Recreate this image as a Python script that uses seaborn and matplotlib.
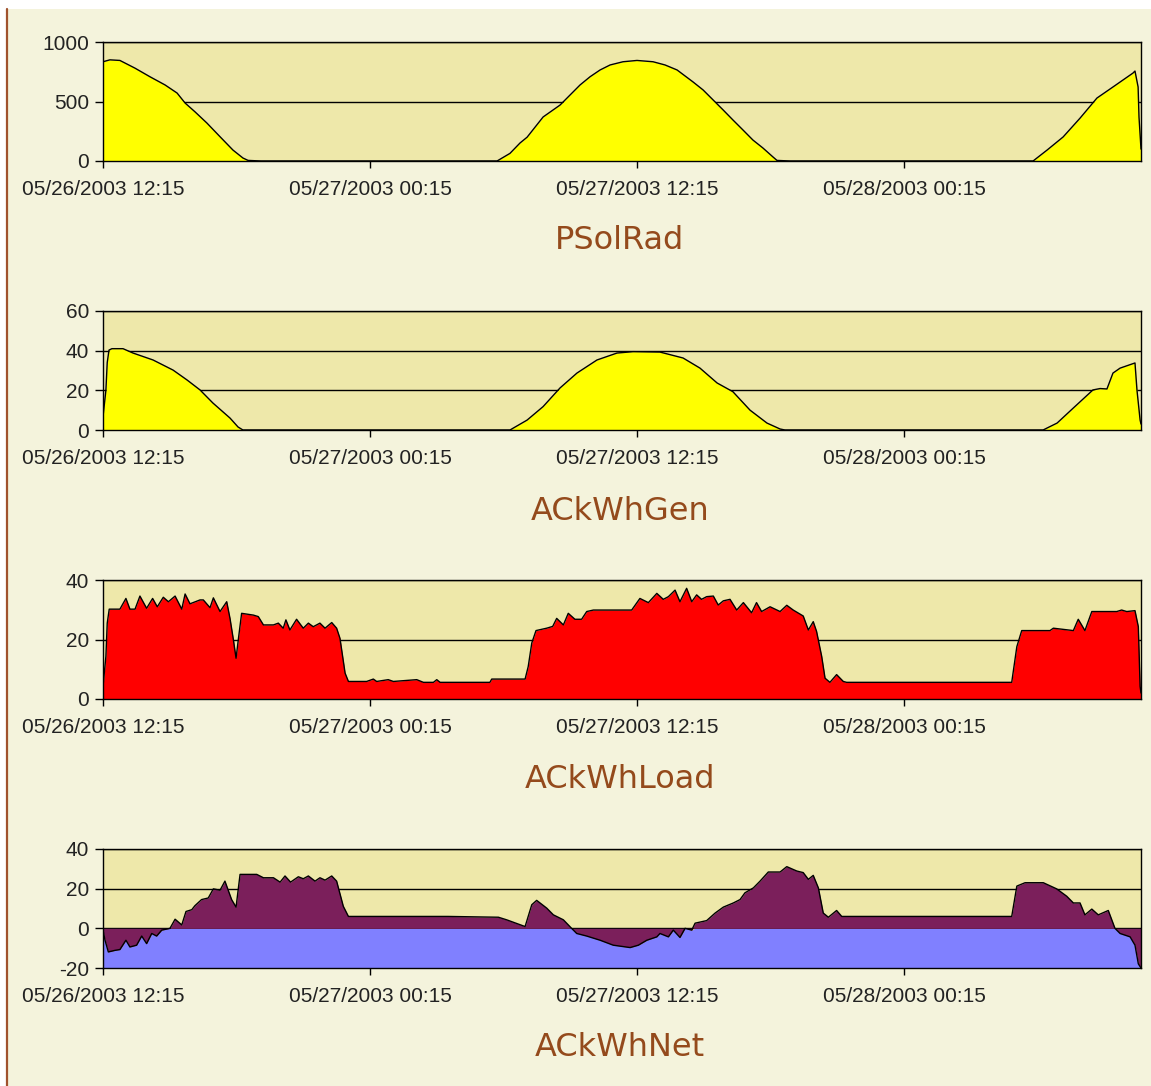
import numpy as np
import pandas as pd
import matplotlib
matplotlib.use("Agg")
import matplotlib.pyplot as plt
import matplotlib.dates as mdates
import seaborn as sns
from matplotlib.patches import Rectangle
from matplotlib.lines import Line2D

# ---------------- data (hours after 05/26/2003 12:15) ----------------
START = "2003-05-26 12:15"
END_HOURS = 46.65
TICK_HOURS = [0, 12, 24, 36]

titles = ["PSolRad", "ACkWhGen", "ACkWhLoad", "ACkWhNet"]

solrad_hours = [0, 0.31, 0.76, 1.44, 2.11, 2.79, 3.33, 3.69, 4.13, 4.67, 5.26, 5.84, 6.29, 6.52, 7.1,
                17.71, 18.29, 18.74, 19.06, 19.78, 20.54, 21.44, 21.89, 22.34, 22.79, 23.37, 24.0,
                24.72, 25.26, 25.8, 26.52, 26.97, 27.42, 27.87, 28.31, 28.76, 29.21, 29.66, 30.11,
                30.29, 30.88,
                41.8, 42.43, 43.15, 43.91, 44.67, 45.39, 46.29, 46.38, 46.52, 46.56, 46.65]
solrad_values = [834, 850, 845, 780, 708, 639, 571, 487, 414, 319, 204, 92, 25, 5, 0,
                 0, 64, 151, 200, 370, 470, 639, 708, 765, 807, 834, 845,
                 834, 807, 765, 664, 597, 513, 429, 345, 261, 176, 109, 34,
                 5, 0,
                 0, 92, 202, 360, 529, 622, 739, 756, 622, 370, 100]

gen_hours = [0, 0.13, 0.19, 0.27, 0.4, 0.9, 1.35, 2.25, 3.15, 3.78, 4.36, 4.94, 5.71, 6.07, 6.29,
             18.29, 19.06, 19.78, 20.54, 21.3, 22.2, 23.1, 23.82, 25.03, 26.07, 26.83, 27.6,
             28.31, 29.08, 29.84, 30.43, 30.65,
             42.25, 42.88, 43.6, 44.49, 44.81, 45.12, 45.39, 45.71, 46.38, 46.47, 46.61, 46.65]
gen_values = [6.7, 20, 34, 40.3, 41, 41, 38.8, 35.3, 30.2, 25.2, 20.2, 13.6, 6, 1.5, 0,
              0, 5, 11.8, 21.2, 28.7, 35.3, 38.8, 39.5, 39.3, 36.3, 31.2, 23.7,
              19.3, 10, 3.5, 0.5, 0,
              0, 3.5, 11, 20.2, 20.9, 20.7, 28.7, 31.2, 33.8, 20, 5, 3]

load_hours = [0, 0.13, 0.19, 0.28, 0.76, 1.03, 1.21, 1.44, 1.66, 1.96, 2.23, 2.44, 2.71, 2.94,
              3.24, 3.54, 3.69, 3.91, 4.36, 4.51, 4.81, 4.96, 5.26, 5.56, 5.71, 5.86, 5.98,
              6.08, 6.23, 6.76, 6.98, 7.21, 7.66, 7.88, 8.1, 8.22, 8.4, 8.7, 9.0, 9.23, 9.45,
              9.75, 9.98, 10.28, 10.5, 10.65, 10.88, 11.03, 11.85, 12.15, 12.3, 12.82, 13.05,
              14.1, 14.4, 14.85, 15.0, 15.15, 17.39, 17.47, 18.97, 19.11, 19.27, 19.46, 19.94,
              20.21, 20.39, 20.69, 20.91, 21.21, 21.51, 21.74, 22.04, 23.76, 24.13, 24.51,
              24.89, 25.18, 25.41, 25.71, 25.93, 26.23, 26.46, 26.68, 26.9, 27.13, 27.43,
              27.65, 27.88, 28.18, 28.48, 28.78, 29.15, 29.37, 29.6, 29.98, 30.43, 30.73,
              31.02, 31.47, 31.7, 31.92, 32.07, 32.3, 32.45, 32.67, 32.97, 33.27, 33.42,
              40.84, 41.07, 41.29, 42.56, 42.71, 43.61, 43.83, 44.13, 44.44, 45.56, 45.78,
              46.01, 46.38, 46.53, 46.61, 46.65]
load_values = [4.2, 14.3, 25.5, 30.2, 30.2, 33.8, 30.2, 30.2, 34.6, 30.5, 33.8, 31.0, 34.2, 32.7,
               34.6, 30.2, 35.3, 32.0, 33.3, 33.3, 30.7, 34.0, 29.4, 32.7, 27.0, 19.9, 13.7,
               19.9, 28.8, 28.2, 27.7, 24.9, 24.9, 25.5, 23.8, 26.6, 23.2, 26.8, 23.8, 25.5, 24.3,
               25.5, 23.8, 25.7, 23.8, 20.4, 8.7, 5.9, 5.9, 6.7, 5.9, 6.5, 5.9,
               6.5, 5.6, 5.6, 6.5, 5.6, 5.6, 6.7, 6.7, 10.9, 18.8, 23.0, 23.8,
               24.4, 27.1, 24.9, 28.8, 26.8, 26.8, 29.4, 29.9, 29.9, 33.8, 32.4,
               35.5, 33.5, 34.4, 36.6, 32.7, 37.2, 32.7, 35.0, 33.5, 34.4, 34.6,
               31.6, 33.0, 33.5, 29.9, 32.4, 29.0, 32.4, 29.4, 31.0, 29.4, 31.5,
               29.9, 27.9, 23.2, 26.0, 22.7, 14.3, 7.0, 5.6, 8.2, 5.9, 5.6,
               5.6, 17.6, 23.0, 23.0, 23.8, 23.0, 26.8, 23.0, 29.4, 29.4, 29.9,
               29.4, 29.7, 24.3, 4.2, 2.0]

net_hours = [0, 0.09, 0.24, 0.54, 0.76, 1.03, 1.21, 1.51, 1.74, 1.96, 2.19, 2.41, 2.64, 3.01,
             3.24, 3.54, 3.73, 3.99, 4.13, 4.43, 4.73, 4.96, 5.26, 5.48, 5.78, 5.98, 6.16,
             6.91, 7.21, 7.66, 7.96, 8.18, 8.43, 8.78, 9.0, 9.23, 9.53, 9.75, 9.98, 10.28,
             10.5, 10.8, 11.03, 15.5, 17.77, 18.14, 18.97, 19.27, 19.49, 19.94, 20.24, 20.69,
             21.06, 21.29, 21.74, 22.34, 22.93, 23.69, 24.06, 24.44, 24.89, 25.03, 25.41,
             25.63, 25.93, 26.16, 26.46, 26.61, 27.13, 27.51, 27.88, 28.33, 28.63, 28.85,
             29.23, 29.53, 29.9, 30.43, 30.73, 31.18, 31.47, 31.7, 31.92, 32.15, 32.37, 32.6,
             32.97, 33.2, 40.84, 41.07, 41.44, 42.26, 42.86, 43.31, 43.61, 43.91, 44.13,
             44.44, 44.73, 45.18, 45.48, 45.71, 46.16, 46.38, 46.53, 46.65]
net_values = [-0.9, -6.0, -11.9, -11.1, -10.7, -6.0, -9.4, -8.5, -3.9, -7.7, -2.6, -3.9, -0.9, 0,
              4.6, 1.7, 8.5, 9.4, 11.4, 14.5, 15.3, 19.9, 19.2, 23.8, 14.5, 10.7, 27.2,
              27.2, 25.5, 25.5, 23.3, 26.4, 23.3, 26.0, 25.0, 26.4, 23.8, 25.5, 24.3, 26.4,
              23.8, 11.1, 6.0, 6.0, 5.6, 4.3, 0.9, 11.9, 14.1, 10.2, 6.8, 4.3,
              0, -2.6, -3.9, -6.0, -8.5, -9.7, -8.5, -6.0, -4.3, -2.6, -4.3,
              -0.9, -4.6, 0, -0.9, 2.6, 3.9, 7.7, 10.7, 12.8, 14.5, 17.9,
              20.4, 23.8, 28.4, 28.4, 31.1, 28.9, 28.1, 24.7, 26.7, 20.4, 7.7, 5.6,
              9.0, 6.0, 6.0, 21.3, 23.0, 23.0, 19.9, 16.2, 12.8, 12.8, 6.8,
              9.7, 6.8, 9.0, 0, -2.6, -4.3, -8.5, -17.9, -20.0]

ylims = [(0, 1000), (0, 60), (0, 40), (-20, 40)]
yticks = [[0, 500, 1000], [0, 20, 40, 60], [0, 20, 40], [-20, 0, 20, 40]]
fill_colors = ["#FFFF00", "#FFFF00", "#FF0000", "#7B1F5B"]
NEG_COLOR = "#8080FF"

# ---------------- style ----------------
sns.set_style("white")
plt.rcParams["font.family"] = ["Liberation Sans", "DejaVu Sans"]

W, H = 1151, 1086
fig = plt.figure(figsize=(W / 100, H / 100), dpi=100, facecolor="white")
fig.patches.append(Rectangle((8 / W, 0), 1 - 8 / W, 1 - 9 / H, transform=fig.transFigure,
                             facecolor="#F4F3DC", edgecolor="none", zorder=-10))
fig.lines.append(Line2D([7.5 / W, 7.5 / W], [0, 1 - 9 / H], transform=fig.transFigure,
                        color="#A0522D", lw=1.6))

start = pd.Timestamp(START)
def to_time(hours):
    return start + pd.to_timedelta(np.asarray(hours, dtype=float), unit="h")

series = [(solrad_hours, solrad_values), (gen_hours, gen_values),
          (load_hours, load_values), (net_hours, net_values)]
plot_tops = [42, 311, 580, 849]
title_y = [241, 511, 779, 1048]
left, right = 103, 1141
ph = 119

for i, (hrs, vals) in enumerate(series):
    top = plot_tops[i]
    ax = fig.add_axes([left / W, 1 - (top + ph) / H, (right - left) / W, ph / H])
    ax.set_facecolor("#EEE8AA")
    t = to_time(hrs)
    v = np.asarray(vals, dtype=float)
    y0, y1 = ylims[i]
    if i == 3:
        ax.fill_between(t, y0, np.minimum(v, 0), color=NEG_COLOR, lw=0, zorder=2)
        ax.fill_between(t, 0, v, color=fill_colors[i], lw=0, zorder=2, interpolate=True)
    else:
        ax.fill_between(t, 0, v, color=fill_colors[i], lw=0, zorder=2)
    sns.lineplot(x=t, y=v, ax=ax, color="black", lw=1.0, sort=False, estimator=None, zorder=3)
    ax.set_xlim(start, start + pd.Timedelta(hours=END_HOURS))
    ax.set_ylim(y0, y1)
    ax.set_yticks(yticks[i])
    ax.set_yticklabels([str(k) for k in yticks[i]])
    ax.set_xticks(to_time(TICK_HOURS))
    ax.xaxis.set_major_formatter(mdates.DateFormatter("%m/%d/%Y %H:%M"))
    ax.set_xlabel("")
    ax.set_ylabel("")
    ax.grid(axis="y", color="black", lw=1.0)
    ax.grid(axis="x", visible=False)
    ax.set_axisbelow(True)
    for sp in ax.spines.values():
        sp.set_visible(True)
        sp.set_color("black")
        sp.set_linewidth(1.0)
        sp.set_zorder(4)
    ax.tick_params(axis="x", which="major", direction="out", length=5, width=1,
                   color="black", pad=8.5, labelsize=15, labelcolor="#222222",
                   bottom=True)
    ax.tick_params(axis="y", which="major", direction="out", length=6, width=1,
                   color="black", pad=4, labelsize=15, labelcolor="#222222", left=True)
    fig.text(620 / W, 1 - title_y[i] / H, titles[i], ha="center", va="center",
             fontsize=23, color="#944A1C", family=["DejaVu Sans"])

fig.savefig("out.png", dpi=100, facecolor=fig.get_facecolor())
